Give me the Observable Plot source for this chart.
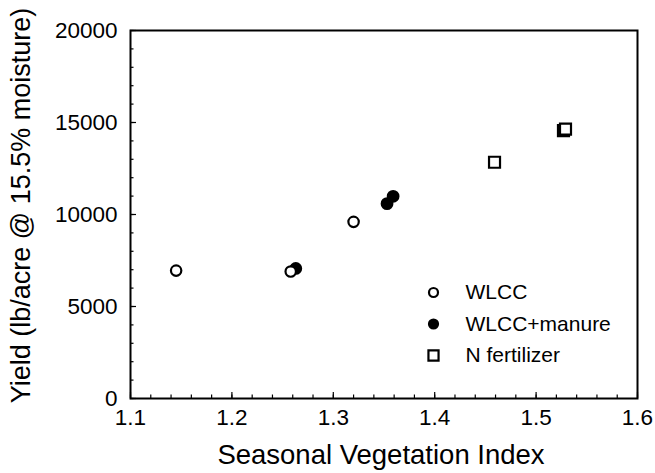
<!DOCTYPE html>
<html>
<head>
<meta charset="utf-8">
<script src="https://cdn.jsdelivr.net/npm/d3@7"></script>
<script src="https://cdn.jsdelivr.net/npm/@observablehq/plot@0.6"></script>
<style>
  html, body { margin: 0; padding: 0; background: #fff; }
  #chart { width: 655px; height: 473px; }
</style>
</head>
<body>
<div id="chart"></div>
<script>
// ---- data ----
const wlccX = [1.145, 1.258, 1.320];
const wlccY = [6950, 6900, 9600];
const manureX = [1.263, 1.353, 1.359];
const manureY = [7070, 10590, 10990];
const nFertX = [1.459, 1.527, 1.529];
const nFertY = [12840, 14560, 14640];

const seriesNames = ["WLCC", "WLCC+manure", "N fertilizer"];
const xMajorTicks = [1.1, 1.2, 1.3, 1.4, 1.5, 1.6];
const xMinorTicks = d3.range(110, 161, 2).map(v => v / 100);
const yMajorTicks = [0, 5000, 10000, 15000, 20000];
const yMinorTicks = d3.range(0, 20001, 1000);
const xLabel = "Seasonal Vegetation Index";
const yLabel = "Yield (lb/acre @ 15.5% moisture)";

// ---- build table ----
const pts = [
  ...wlccX.map((x, i) => ({x, y: wlccY[i], s: seriesNames[0]})),
  ...manureX.map((x, i) => ({x, y: manureY[i], s: seriesNames[1]})),
  ...nFertX.map((x, i) => ({x, y: nFertY[i], s: seriesNames[2]}))
];

const style = {
  "WLCC": {symbol: "circle", fill: "white", r: 5.2},
  "WLCC+manure": {symbol: "circle", fill: "black", r: 5.3},
  "N fertilizer": {symbol: "square", fill: "white", r: 6.2}
};

const font = "Liberation Sans, Arial, Helvetica, sans-serif";

const legendMarks = seriesNames.flatMap((name, i) => {
  const st = style[name];
  return [
    Plot.dot([name], {
      frameAnchor: "top-left", dx: 303, dy: 262 + i * 31.5,
      symbol: st.symbol, r: name === "N fertilizer" ? 5.7 : 4.5,
      fill: st.fill, stroke: "black", strokeWidth: 2.2
    }),
    Plot.text([name], {
      frameAnchor: "top-left", dx: 335, dy: 262 + i * 31.5,
      text: d => d, textAnchor: "start", lineAnchor: "middle", fontSize: 21, fill: "black"
    })
  ];
});

const chart = Plot.plot({
  width: 655,
  height: 473,
  marginLeft: 130,
  marginRight: 18,
  marginTop: 30,
  marginBottom: 75,
  style: {fontFamily: font, background: "white", color: "black"},
  x: {domain: [1.1, 1.6]},
  y: {domain: [0, 20000]},
  r: {type: "identity"},
  marks: [
    Plot.axisX({ticks: xMinorTicks, tickSize: -3.5, tickFormat: () => "", label: null, strokeWidth: 1.2}),
    Plot.axisX({ticks: xMajorTicks, tickSize: -6, tickFormat: () => "", label: null, strokeWidth: 1.2}),
    Plot.axisY({ticks: yMinorTicks, tickSize: -3.5, tickFormat: () => "", label: null, strokeWidth: 1.2}),
    Plot.axisY({ticks: yMajorTicks, tickSize: -6, tickFormat: () => "", label: null, strokeWidth: 1.2}),
    Plot.text(xMajorTicks, {x: d => d, frameAnchor: "bottom", dy: 19, lineAnchor: "middle", textAnchor: "middle", text: d => d3.format(".1f")(d), fontSize: 22.5, fill: "black"}),
    Plot.text(yMajorTicks, {y: d => d, frameAnchor: "left", dx: -13, lineAnchor: "middle", textAnchor: "end", text: d => String(d), fontSize: 22.5, fill: "black"}),
    Plot.frame({stroke: "black", strokeWidth: 2}),
    Plot.text([xLabel], {frameAnchor: "bottom", dx: -3, dy: 57, lineAnchor: "middle", textAnchor: "middle", text: d => d, fontSize: 27.5, fill: "black"}),
    Plot.text([yLabel], {frameAnchor: "left", dx: -109, dy: -9, rotate: -90, lineAnchor: "middle", textAnchor: "middle", text: d => d, fontSize: 27, fill: "black"}),
    Plot.dot(pts, {
      x: "x", y: "y",
      symbol: d => style[d.s].symbol,
      r: d => style[d.s].r,
      fill: d => style[d.s].fill,
      stroke: "black", strokeWidth: 2.2
    }),
    ...legendMarks
  ]
});

document.getElementById("chart").appendChild(chart);
</script>
</body>
</html>
